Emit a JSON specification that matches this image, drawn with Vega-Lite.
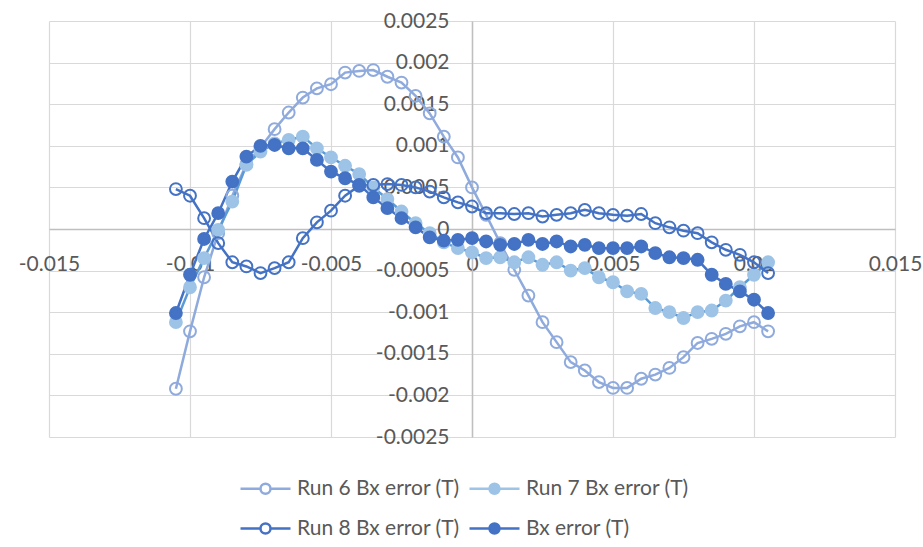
{
  "$schema": "https://vega.github.io/schema/vega-lite/v6.json",
  "width": 846,
  "height": 416,
  "autosize": {"type": "none"},
  "padding": {"left": 49, "top": 21, "right": 28, "bottom": 110},
  "background": "white",
  "config": {
    "view": {"stroke": null},
    "font": "Lato"
  },
  "data": {
    "values": [
      {"x": -0.0105, "Run 6 Bx error (T)": -0.00192, "Run 7 Bx error (T)": -0.00112, "Run 8 Bx error (T)": 0.00048, "Bx error (T)": -0.00101},
      {"x": -0.0100, "Run 6 Bx error (T)": -0.00123, "Run 7 Bx error (T)": -0.00070, "Run 8 Bx error (T)": 0.00040, "Bx error (T)": -0.00055},
      {"x": -0.0095, "Run 6 Bx error (T)": -0.00058, "Run 7 Bx error (T)": -0.00035, "Run 8 Bx error (T)": 0.00013, "Bx error (T)": -0.00012},
      {"x": -0.0090, "Run 6 Bx error (T)": -0.00005, "Run 7 Bx error (T)": -0.00001, "Run 8 Bx error (T)": -0.00017, "Bx error (T)": 0.00019},
      {"x": -0.0085, "Run 6 Bx error (T)": 0.00040, "Run 7 Bx error (T)": 0.00033, "Run 8 Bx error (T)": -0.00040, "Bx error (T)": 0.00057},
      {"x": -0.0080, "Run 6 Bx error (T)": 0.00078, "Run 7 Bx error (T)": 0.00077, "Run 8 Bx error (T)": -0.00045, "Bx error (T)": 0.00087},
      {"x": -0.0075, "Run 6 Bx error (T)": 0.00098, "Run 7 Bx error (T)": 0.00093, "Run 8 Bx error (T)": -0.00053, "Bx error (T)": 0.00100},
      {"x": -0.0070, "Run 6 Bx error (T)": 0.00120, "Run 7 Bx error (T)": 0.00103, "Run 8 Bx error (T)": -0.00047, "Bx error (T)": 0.00101},
      {"x": -0.0065, "Run 6 Bx error (T)": 0.00140, "Run 7 Bx error (T)": 0.00107, "Run 8 Bx error (T)": -0.00040, "Bx error (T)": 0.00097},
      {"x": -0.0060, "Run 6 Bx error (T)": 0.00158, "Run 7 Bx error (T)": 0.00111, "Run 8 Bx error (T)": -0.00011, "Bx error (T)": 0.00097},
      {"x": -0.0055, "Run 6 Bx error (T)": 0.00169, "Run 7 Bx error (T)": 0.00097, "Run 8 Bx error (T)": 0.00008, "Bx error (T)": 0.00083},
      {"x": -0.0050, "Run 6 Bx error (T)": 0.00174, "Run 7 Bx error (T)": 0.00086, "Run 8 Bx error (T)": 0.00022, "Bx error (T)": 0.00069},
      {"x": -0.0045, "Run 6 Bx error (T)": 0.00188, "Run 7 Bx error (T)": 0.00076, "Run 8 Bx error (T)": 0.00040, "Bx error (T)": 0.00061},
      {"x": -0.0040, "Run 6 Bx error (T)": 0.00190, "Run 7 Bx error (T)": 0.00066, "Run 8 Bx error (T)": 0.00052, "Bx error (T)": 0.00053},
      {"x": -0.0035, "Run 6 Bx error (T)": 0.00191, "Run 7 Bx error (T)": 0.00050, "Run 8 Bx error (T)": 0.00053, "Bx error (T)": 0.00038},
      {"x": -0.0030, "Run 6 Bx error (T)": 0.00183, "Run 7 Bx error (T)": 0.00036, "Run 8 Bx error (T)": 0.00054, "Bx error (T)": 0.00025},
      {"x": -0.0025, "Run 6 Bx error (T)": 0.00176, "Run 7 Bx error (T)": 0.00021, "Run 8 Bx error (T)": 0.00053, "Bx error (T)": 0.00013},
      {"x": -0.0020, "Run 6 Bx error (T)": 0.00160, "Run 7 Bx error (T)": 0.00007, "Run 8 Bx error (T)": 0.00050, "Bx error (T)": 0.00002},
      {"x": -0.0015, "Run 6 Bx error (T)": 0.00139, "Run 7 Bx error (T)": -0.00005, "Run 8 Bx error (T)": 0.00045, "Bx error (T)": -0.00010},
      {"x": -0.0010, "Run 6 Bx error (T)": 0.00111, "Run 7 Bx error (T)": -0.00016, "Run 8 Bx error (T)": 0.00038, "Bx error (T)": -0.00014},
      {"x": -0.0005, "Run 6 Bx error (T)": 0.00086, "Run 7 Bx error (T)": -0.00023, "Run 8 Bx error (T)": 0.00032, "Bx error (T)": -0.00013},
      {"x": 0.0000, "Run 6 Bx error (T)": 0.00050, "Run 7 Bx error (T)": -0.00028, "Run 8 Bx error (T)": 0.00027, "Bx error (T)": -0.00011},
      {"x": 0.0005, "Run 6 Bx error (T)": 0.00017, "Run 7 Bx error (T)": -0.00035, "Run 8 Bx error (T)": 0.00019, "Bx error (T)": -0.00015},
      {"x": 0.0010, "Run 6 Bx error (T)": -0.00017, "Run 7 Bx error (T)": -0.00034, "Run 8 Bx error (T)": 0.00019, "Bx error (T)": -0.00019},
      {"x": 0.0015, "Run 6 Bx error (T)": -0.00049, "Run 7 Bx error (T)": -0.00040, "Run 8 Bx error (T)": 0.00018, "Bx error (T)": -0.00018},
      {"x": 0.0020, "Run 6 Bx error (T)": -0.00080, "Run 7 Bx error (T)": -0.00034, "Run 8 Bx error (T)": 0.00019, "Bx error (T)": -0.00013},
      {"x": 0.0025, "Run 6 Bx error (T)": -0.00112, "Run 7 Bx error (T)": -0.00043, "Run 8 Bx error (T)": 0.00015, "Bx error (T)": -0.00018},
      {"x": 0.0030, "Run 6 Bx error (T)": -0.00136, "Run 7 Bx error (T)": -0.00040, "Run 8 Bx error (T)": 0.00017, "Bx error (T)": -0.00015},
      {"x": 0.0035, "Run 6 Bx error (T)": -0.00160, "Run 7 Bx error (T)": -0.00050, "Run 8 Bx error (T)": 0.00019, "Bx error (T)": -0.00021},
      {"x": 0.0040, "Run 6 Bx error (T)": -0.00170, "Run 7 Bx error (T)": -0.00047, "Run 8 Bx error (T)": 0.00023, "Bx error (T)": -0.00019},
      {"x": 0.0045, "Run 6 Bx error (T)": -0.00184, "Run 7 Bx error (T)": -0.00058, "Run 8 Bx error (T)": 0.00019, "Bx error (T)": -0.00023},
      {"x": 0.0050, "Run 6 Bx error (T)": -0.00191, "Run 7 Bx error (T)": -0.00064, "Run 8 Bx error (T)": 0.00017, "Bx error (T)": -0.00023},
      {"x": 0.0055, "Run 6 Bx error (T)": -0.00191, "Run 7 Bx error (T)": -0.00075, "Run 8 Bx error (T)": 0.00016, "Bx error (T)": -0.00023},
      {"x": 0.0060, "Run 6 Bx error (T)": -0.00180, "Run 7 Bx error (T)": -0.00078, "Run 8 Bx error (T)": 0.00018, "Bx error (T)": -0.00021},
      {"x": 0.0065, "Run 6 Bx error (T)": -0.00175, "Run 7 Bx error (T)": -0.00095, "Run 8 Bx error (T)": 0.00007, "Bx error (T)": -0.00029},
      {"x": 0.0070, "Run 6 Bx error (T)": -0.00167, "Run 7 Bx error (T)": -0.00100, "Run 8 Bx error (T)": 0.00002, "Bx error (T)": -0.00034},
      {"x": 0.0075, "Run 6 Bx error (T)": -0.00154, "Run 7 Bx error (T)": -0.00107, "Run 8 Bx error (T)": -0.00002, "Bx error (T)": -0.00035},
      {"x": 0.0080, "Run 6 Bx error (T)": -0.00137, "Run 7 Bx error (T)": -0.00100, "Run 8 Bx error (T)": -0.00005, "Bx error (T)": -0.00037},
      {"x": 0.0085, "Run 6 Bx error (T)": -0.00132, "Run 7 Bx error (T)": -0.00098, "Run 8 Bx error (T)": -0.00016, "Bx error (T)": -0.00055},
      {"x": 0.0090, "Run 6 Bx error (T)": -0.00126, "Run 7 Bx error (T)": -0.00086, "Run 8 Bx error (T)": -0.00025, "Bx error (T)": -0.00066},
      {"x": 0.0095, "Run 6 Bx error (T)": -0.00117, "Run 7 Bx error (T)": -0.00070, "Run 8 Bx error (T)": -0.00031, "Bx error (T)": -0.00075},
      {"x": 0.0100, "Run 6 Bx error (T)": -0.00112, "Run 7 Bx error (T)": -0.00055, "Run 8 Bx error (T)": -0.00040, "Bx error (T)": -0.00085},
      {"x": 0.0105, "Run 6 Bx error (T)": -0.00123, "Run 7 Bx error (T)": -0.00040, "Run 8 Bx error (T)": -0.00053, "Bx error (T)": -0.00101}
    ]
  },
  "transform": [
    {"fold": ["Run 6 Bx error (T)", "Run 7 Bx error (T)", "Run 8 Bx error (T)", "Bx error (T)"], "as": ["series", "value"]}
  ],
  "encoding": {
    "x": {
      "field": "x", "type": "quantitative",
      "scale": {"domain": [-0.015, 0.015], "nice": false, "zero": false},
      "axis": {
        "orient": "bottom", "offset": -208, "title": null,
        "values": [-0.015, -0.01, -0.005, 0, 0.005, 0.01, 0.015],
        "labelExpr": "datum.value + ''",
        "grid": true, "gridColor": "#d9d9d9", "gridWidth": 1.2,
        "domain": true, "domainColor": "#bfbfbf", "domainWidth": 1.5,
        "ticks": false, "tickSize": 0, "labelPadding": 24,
        "labelFont": "Lato", "labelFontSize": 21, "labelColor": "#595959",
        "labelFlush": false, "labelOverlap": false, "labelBound": false
      }
    },
    "y": {
      "field": "value", "type": "quantitative",
      "scale": {"domain": [-0.0025, 0.0025], "nice": false, "zero": false},
      "axis": {
        "orient": "left", "offset": -423, "title": null,
        "values": [-0.0025, -0.002, -0.0015, -0.001, -0.0005, 0, 0.0005, 0.001, 0.0015, 0.002, 0.0025],
        "labelExpr": "datum.value + ''",
        "grid": true, "gridColor": "#d9d9d9", "gridWidth": 1.2,
        "domain": true, "domainColor": "#bfbfbf", "domainWidth": 1.5,
        "ticks": false, "tickSize": 0, "labelPadding": 23,
        "labelFont": "Lato", "labelFontSize": 21, "labelColor": "#595959",
        "labelFlush": false, "labelOverlap": false, "labelBound": false
      }
    }
  },
  "layer": [
    {
      "mark": {"type": "line", "strokeWidth": 2.5},
      "encoding": {
        "color": {
          "field": "series", "type": "nominal",
          "scale": {
            "range": ["#4472c4", "#8faadc", "#5b9bd5", "#4472c4"]
          },
          "legend": null
        },
        "order": {"field": "x", "type": "quantitative"}
      }
    },
    {
      "mark": {"type": "point", "filled": true, "size": 140, "strokeWidth": 2, "opacity": 1, "fillOpacity": 1, "strokeOpacity": 1},
      "encoding": {
        "fill": {
          "field": "series", "type": "nominal",
          "scale": {
            "domain": ["Run 6 Bx error (T)", "Run 7 Bx error (T)", "Run 8 Bx error (T)", "Bx error (T)"],
            "range": ["transparent", "#9dc3e6", "transparent", "#4472c4"]
          },
          "legend": {
            "orient": "none", "legendX": 206, "legendY": 457,
            "title": null, "columns": 2, "direction": "horizontal",
            "padding": 0, "symbolOffset": 0,
            "symbolType": "M-5,0L-1,0M1,0L5,0M-1,0A1,1,0,1,1,1,0A1,1,0,1,1,-1,0Z",
            "symbolSize": 100, "symbolStrokeWidth": 2.5,
            "labelFont": "Lato", "labelFontSize": 21, "labelColor": "#595959",
            "labelOffset": 21, "columnPadding": 4, "rowPadding": 18,
            "labelLimit": 400,
            "encode": {
              "symbols": {
                "update": {
                  "stroke": {"scale": "color", "field": "value"}
                }
              }
            }
          }
        },
        "stroke": {
          "field": "series", "type": "nominal",
          "scale": {
            "domain": ["Run 6 Bx error (T)", "Run 7 Bx error (T)", "Run 8 Bx error (T)", "Bx error (T)"],
            "range": ["#8faadc", "#9dc3e6", "#4472c4", "#4472c4"]
          },
          "legend": {
            "orient": "none", "legendX": 206, "legendY": 457,
            "title": null, "columns": 2, "direction": "horizontal",
            "padding": 0, "symbolOffset": 0,
            "symbolType": "M-5,0L-1,0M1,0L5,0M-1,0A1,1,0,1,1,1,0A1,1,0,1,1,-1,0Z",
            "symbolSize": 100, "symbolStrokeWidth": 2.5,
            "labelFont": "Lato", "labelFontSize": 21, "labelColor": "#595959",
            "labelOffset": 21, "columnPadding": 4, "rowPadding": 18,
            "labelLimit": 400,
            "encode": {
              "symbols": {
                "update": {
                  "stroke": {"scale": "color", "field": "value"}
                }
              }
            }
          }
        }
      }
    }
  ]
}
